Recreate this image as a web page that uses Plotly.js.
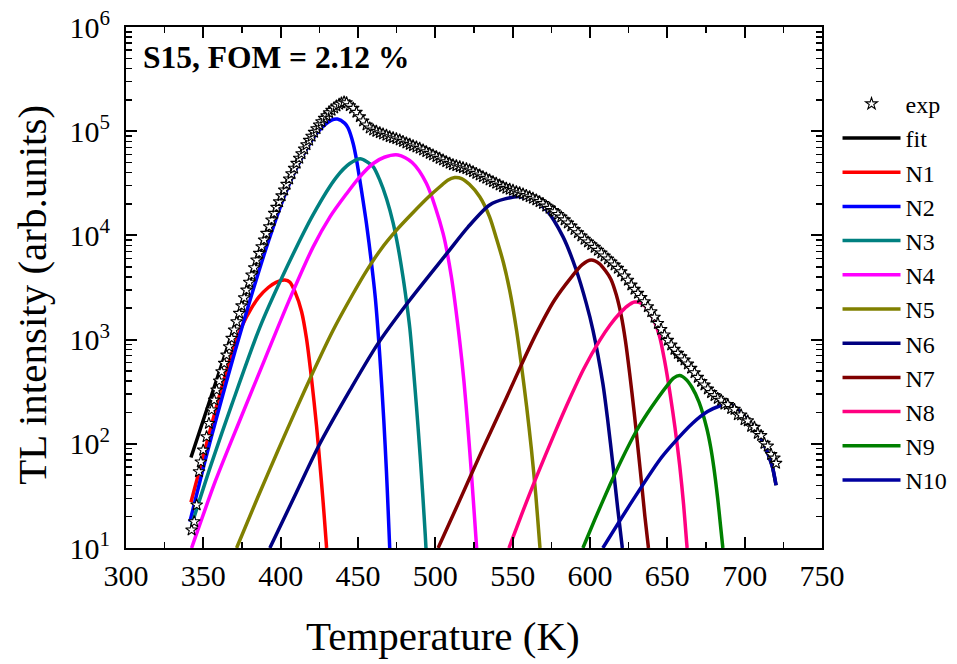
<!DOCTYPE html>
<html>
<head>
<meta charset="utf-8">
<script src="https://cdn.plot.ly/plotly-3.0.1.min.js"></script>
<style>
  html, body { margin: 0; padding: 0; background: #fff; }
  #chart { width: 957px; height: 664px; }
</style>
</head>
<body>
<div id="chart"></div>
<script>
// Measured glow curve (stars), temperature in K and TL intensity in arb. units
const expT = [342.4,344.1,345.7,347.2,348.4,349.9,352.1,353.6,355.4,357.0,
  358.6,360.3,361.8,363.5,365.0,366.7,368.3,369.9,371.5,373.2,
  374.7,376.4,377.9,379.7,381.2,382.9,384.4,386.1,387.7,389.3,
  390.8,392.6,394.1,395.8,397.3,399.0,400.6,402.3,403.8,405.5,
  407.0,408.7,410.3,412.0,413.5,415.2,416.7,418.4,420.0,421.6,
  423.2,424.9,426.4,428.1,429.7,431.3,432.9,434.6,436.1,437.8,
  439.3,441.0,442.6,
  444.7,446.9,449.0,451.2,453.3,455.5,457.6,459.8,461.9,464.1,
  466.2,468.4,470.5,472.7,474.8,477.0,479.1,481.3,483.5,485.6,
  487.8,489.9,492.1,494.2,496.4,498.5,500.7,502.8,505.0,507.1,
  509.3,511.4,513.6,515.8,517.9,520.1,522.2,524.4,526.5,528.7,
  530.8,533.0,535.1,537.3,539.4,541.6,543.8,545.9,548.1,550.2,
  552.4,554.5,556.7,558.8,561.0,563.1,565.3,567.4,569.6,571.7,
  573.9,576.0,
  577.1,579.3,581.4,583.6,585.7,587.9,590.0,592.2,594.4,596.5,
  598.7,600.8,603.0,605.1,607.3,609.4,611.6,613.7,615.9,618.0,
  620.2,622.4,624.5,626.7,628.8,631.0,633.1,635.3,637.4,639.6,
  641.7,643.9,646.0,648.2,650.3,652.5,654.6,656.8,658.9,661.1,
  663.3,665.4,667.6,669.7,671.9,674.0,676.2,678.3,680.5,682.6,
  684.8,686.9,689.1,691.3,693.4,695.6,697.7,699.9,702.0,704.2,
  706.3,708.5,710.6,712.8,714.9,717.1,719.2,720.3];
const expY = [14.9,17.9,25.9,54,67,87,117,157,211,263,
  328,401,492,592,711,855,1028,1236,1485,1786,
  2110,2520,2990,3550,4170,4900,5810,6730,7800,9040,
  10470,12130,14060,16300,18600,21000,24000,27300,30900,34800,
  39100,44100,49200,55000,60800,67500,74200,81800,89400,97600,
  105700,114800,123400,133000,141000,150600,158600,167000,174700,181300,
  186600,191000,188000,
  175900,165800,151800,137900,125300,114700,107300,102700,99700,96800,
  94000,91300,88600,86700,84800,82300,79900,77000,74800,72600,
  70500,68500,66000,63600,61300,59100,57000,54900,52900,51000,
  49200,47700,46700,45700,44700,43700,42400,40900,39400,38000,
  36600,35300,34000,32800,31600,30400,29400,28300,27700,27100,
  26300,25700,25000,24200,23500,22700,21900,21100,20200,19100,
  18200,17300,
  16900,15900,15000,14100,13150,12300,11400,10600,9870,9170,
  8650,8150,7680,7190,6780,6340,5940,5560,5200,4830,
  4490,4080,3710,3340,3040,2780,2540,2310,2070,1850,
  1640,1430,1250,1110,984,888,806,738,686,637,
  583,530,481,434,397,367,336,310,290,273,
  262,240,238,218,214,190,189,170,166,147,
  144,126,120,101,95,79,73,65];

// Total fitted curve
const fitT = [342,346,350,354,358,362,366,370,374,378,
  382,386,390,394,398,402,406,410,414,418,
  422,426,430,434,438,441,444,447,450,453,
  456,460,465,470,475,480,485,490,495,500,
  505,510,515,520,525,530,535,540,545,550,
  555,560,565,570,575,580,585,590,595,600,
  605,610,615,620,625,630,635,638,640,645,
  650,655,660,665,670,675,680,685,690,695,
  700,705,710,715,718,720.3];
const fitY = [74,112,170,260,400,610,920,1380,2020,3000,
  4500,6650,9700,13900,19600,26700,36200,48300,62800,80000,
  99600,121000,143000,164000,183000,189000,178000,163000,143000,125000,
  111000,101000,95000,88800,84500,78500,73300,68400,62700,57500,
  52700,48300,45200,42600,39500,36200,33500,31000,28600,27100,
  25400,23700,21900,19900,17700,15500,13400,11300,9500,8100,
  7100,6100,5250,4300,3500,2850,2250,1880,1660,1270,
  960,720,610,520,425,345,290,248,242,218,
  182,150,118,82,60,40];

// Deconvoluted glow peaks N1..N10
const n1T = [342,349,360,365,370,375,381,386,392,397,402.7,406,409.2,413.5,416.7,419.9,423.2,425.3,427.5,429.4,429.7];
const n1Y = [27.5,67.6,275,501,871,1349,1995,2570,3162,3548,3733,3548,2884,1862,1023,427,148,66,27,11.5,10];

const n2T = [341.3,351,359.6,370.4,381.2,392,402.7,413.5,424.2,432.9,436.7,441.5,443.6,446.9,449,451.2,453.3,455.5,458.5,461.2,464.1,466.7,468.4,469.5,470.5];
const n2Y = [17.9,67.5,203,766,2679,8710,24430,54950,99080,127940,130920,118850,107150,75860,53700,33880,21380,12880,5754,2512,692,166,53.7,22.9,10];

const n3T = [342.4,355,368.5,386.6,401.6,421,436.1,444.7,451.5,455.5,459.8,464.1,468.5,472.7,476,479.1,481.3,483.5,487.8,490.2,492,493.5,493.95];
const n3Y = [16.6,63.1,240,1318,4169,15850,36310,48980,54450,51290,45710,33880,22390,13180,7586,3981,2344,1288,229,75.9,30.2,13.2,10];

const n4T = [342.4,358,374,390,405,421,432,442.6,451,459.8,467,475.9,485,494.2,505,510.4,515.8,518.5,521.1,523.5,525.5,526.7];
const n4Y = [10,44.7,174,661,2291,7762,15140,25120,36310,48980,56230,59160,50120,31620,10470,3981,955,398,141,47.9,18.2,10];

const n5T = [371.5,385,398.4,410,421,433.9,446.8,455.5,465,474.9,485,496.4,504,508,512.5,517,522,528.7,535,539.5,544,548.1,552.4,555.6,559,562.1,565,567.5,567.7];
const n5Y = [10,30.2,87.1,214,490,1230,2754,4571,7413,11220,16220,23990,30200,33880,35890,35080,30900,23500,15140,9333,5495,2951,1259,575,229,89.1,31.6,10.7,10];

const n6T = [393,410,425.3,445,463,483.5,507.1,521.1,535.1,545,555,563,571.8,582.5,591.1,597.6,601.9,608.3,611.5,614.8,618,620.9];
const n6Y = [10,33.7,100,331,920,2399,6607,12020,19590,22390,23550,21880,17540,9727,4656,2228,1236,380,166,63.1,23.4,10];

const n7T = [501.8,515.8,530,545.9,556,565.3,577.1,588,595,600.8,606,610,613.5,617,620.2,623,625.6,628.5,631,633.5,635.5,637.8];
const n7Y = [10,28.8,85.1,275,589,1148,2399,3981,5248,5808,5370,4571,3802,2692,1698,955,479,204,91.2,39.8,20,10];

const n8T = [547.6,556,565.3,577.1,586.8,596,606.2,613,619.1,624,628.8,633,638.5,641.5,645,648.2,652,655,658,660.5,662.5,662.8];
const n8Y = [10,21.4,47.9,126,269,525,977,1380,1778,2089,2291,2239,1862,1514,1072,631,288,141,61.7,26.3,11.2,10];

const n9T = [595.4,603,612.7,620.2,629.9,637,643,650,654,658,662,666,670.5,675.5,678,680,682.6,684.5,685.9];
const n9Y = [10,18.6,39.8,69.2,132,195,263,363,427,452,417,347,251,141,93.3,60.3,29.5,15.8,10];

const n10T = [608.3,627.7,645,652.5,666.5,676,683,689,693.4,699.9,706.3,710.6,714.9,718.2,720.3];
const n10Y = [10,28.8,70,95.5,158.5,204,228,238,227,182,141,113,81,58,40];

const peakNames = ['N1','N2','N3','N4','N5','N6','N7','N8','N9','N10'];
const peakColors = ['#ff0000','#0000ff','#008080','#ff00ff','#808000',
                    '#000080','#800000','#ff0080','#008000','#0000a0'];
const peakT = [n1T,n2T,n3T,n4T,n5T,n6T,n7T,n8T,n9T,n10T];
const peakY = [n1Y,n2Y,n3Y,n4Y,n5Y,n6Y,n7Y,n8Y,n9Y,n10Y];

// Axis ticks and titles
const xTickVals = [300,350,400,450,500,550,600,650,700,750];
const yTickVals = [1e1,1e2,1e3,1e4,1e5,1e6];
const yTickText = ['10<sup>1</sup>','10<sup>2</sup>','10<sup>3</sup>',
                   '10<sup>4</sup>','10<sup>5</sup>','10<sup>6</sup>'];
const xTitle = 'Temperature (K)';
const yTitle = 'TL intensity (arb.units)';
const sampleLabel = '<b>S15, FOM = 2.12 %</b>';

const FONT = 'Liberation Serif';

// minor log ticks 2..9 in every decade
const yMinor = [];
for (let d = 1; d < 6; d++) {
  for (let m = 2; m <= 9; m++) yMinor.push(m * Math.pow(10, d));
}

const traces = [];
traces.push({
  x: fitT, y: fitY, name: 'fit', type: 'scatter', mode: 'lines',
  line: {color: '#000', width: 3.5}, legendrank: 2
});
peakNames.forEach((nm, i) => {
  traces.push({
    x: peakT[i], y: peakY[i], name: nm, type: 'scatter', mode: 'lines',
    line: {color: peakColors[i], width: 3.5, shape: 'spline', smoothing: 0.8},
    legendrank: 3 + i
  });
});
traces.push({
  x: expT, y: expY, name: 'exp', type: 'scatter', mode: 'markers',
  marker: {symbol: 'star', size: 9, color: '#fff', line: {color: '#000', width: 1.1}},
  legendrank: 1
});

const axisCommon = {
  showline: true, linecolor: '#000', linewidth: 2, mirror: 'ticks',
  ticks: 'inside', ticklen: 11, tickwidth: 2, tickcolor: '#000',
  showgrid: false, zeroline: false,
  tickfont: {family: FONT, size: 30, color: '#000'}
};

const layout = {
  width: 957, height: 664,
  margin: {l: 126, r: 134.5, t: 27, b: 116, autoexpand: false},
  paper_bgcolor: '#fff', plot_bgcolor: '#fff',
  font: {family: FONT, color: '#000'},
  showlegend: true,
  xaxis: Object.assign({}, axisCommon, {
    range: [300, 750], tickmode: 'array', tickvals: xTickVals,
    minor: {dtick: 25, tick0: 300, ticks: 'inside', ticklen: 6, tickwidth: 1.5, tickcolor: '#000'}
  }),
  yaxis: Object.assign({}, axisCommon, {
    type: 'log', range: [1, 6], tickmode: 'array',
    tickvals: yTickVals, ticktext: yTickText,
    ticklabelstandoff: 8,
    minor: {tickmode: 'array', tickvals: yMinor, ticks: 'inside', ticklen: 6, tickwidth: 1.5, tickcolor: '#000'}
  }),
  legend: {
    x: 1.0223, xanchor: 'left', y: 0.895, yanchor: 'top',
    font: {family: FONT, size: 24, color: '#000'},
    bgcolor: 'rgba(0,0,0,0)', borderwidth: 0,
    itemwidth: 58, tracegroupgap: 0, traceorder: 'normal'
  },
  annotations: [
    {
      xref: 'paper', yref: 'paper', x: 0.022, y: 0.942,
      xanchor: 'left', yanchor: 'middle', showarrow: false,
      text: sampleLabel,
      font: {family: FONT, size: 31.5, color: '#000'}
    },
    {
      xref: 'paper', yref: 'paper', x: 0.456, y: -0.169,
      xanchor: 'center', yanchor: 'middle', showarrow: false,
      text: xTitle,
      font: {family: FONT, size: 41, color: '#000'}
    },
    {
      xref: 'paper', yref: 'paper', x: -0.135, y: 0.486,
      xanchor: 'center', yanchor: 'middle', showarrow: false, textangle: -90,
      text: yTitle,
      font: {family: FONT, size: 41, color: '#000'}
    }
  ]
};

Plotly.newPlot('chart', traces, layout, {displayModeBar: false, staticPlot: true});
</script>
</body>
</html>
